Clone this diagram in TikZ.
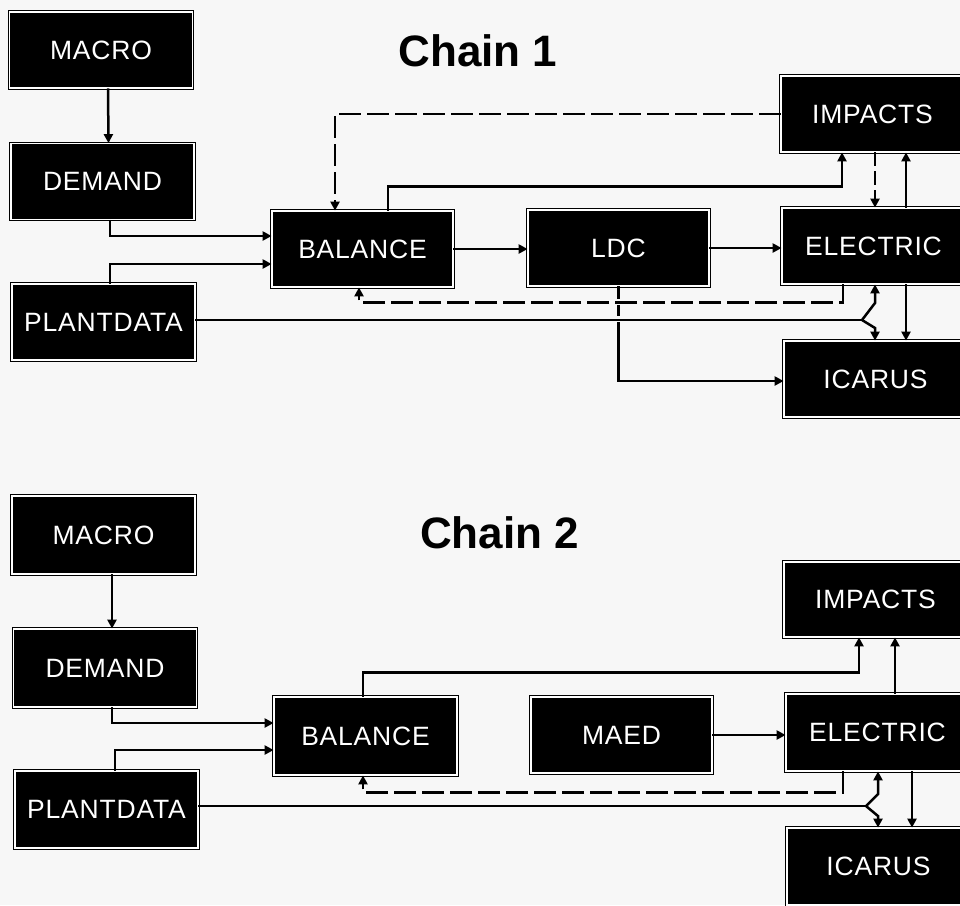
\documentclass[tikz,border=0pt]{standalone}
\usepackage{fontspec}
\setmainfont{Liberation Sans}
\newfontfamily\boxfont[LetterSpace=3]{Liberation Sans}
\usetikzlibrary{arrows.meta}
\definecolor{bgcol}{RGB}{247,247,247}
\tikzset{
  box/.style={draw=black, line width=0.8pt, double=white, double distance=1.6pt,
    fill=black, text=white, font=\boxfont\fontsize{26.5}{30}\selectfont,
    minimum width=183pt, minimum height=76pt, inner sep=0pt},
  title/.style={font=\fontsize{44}{50}\selectfont\bfseries, text=black, inner sep=0pt},
  arr/.style={line width=2.5pt, -{Triangle[length=9pt,width=9pt]}},
  ln/.style={line width=2.5pt},
  dasharr/.style={line width=2.5pt, dash pattern=on 22pt off 6pt, -{Triangle[length=9pt,width=9pt]}},
  vdasharr/.style={line width=2.5pt, dash pattern=on 14pt off 5pt, -{Triangle[length=9pt,width=9pt]}},
}
\begin{document}
\begin{tikzpicture}[x=1pt,y=-1pt]
\fill[bgcol] (0,0) rectangle (960,905);
\useasboundingbox (0,0) rectangle (960,905);
\clip (0,0) rectangle (960,905);

% ---------------- Chain 1 ----------------
\node[title] (T1) at (478,51) {Chain 1};
\node[box] (MACRO1) at (101,50) {MACRO};
\node[box] (DEMAND1) at (102.5,181.5) {DEMAND};
\node[box] (PLANT1) at (103.5,322) {PLANTDATA};
\node[box, minimum width=181pt] (BAL1) at (362.5,249) {BALANCE};
\node[box, minimum width=181pt] (LDC1) at (618.5,248) {LDC};
\node[box] (IMP1) at (872.5,114) {IMPACTS};
\node[box] (ELEC1) at (873.5,246) {ELECTRIC};
\node[box] (ICAR1) at (875.5,379) {ICARUS};

\draw[arr] ([xshift=7pt]MACRO1.south) -- ([xshift=6pt]DEMAND1.north);
\draw[arr] ([xshift=7.5pt]DEMAND1.south) |- ([yshift=13pt]BAL1.west);
\draw[arr] ([xshift=6.5pt]PLANT1.north) |- ([yshift=-15pt]BAL1.west);
\draw[arr] (BAL1.east) -- (BAL1.east -| LDC1.west);
\draw[arr] (LDC1.east) -- (LDC1.east -| ELEC1.west);
\draw[dasharr] (IMP1.west) -| ([xshift=-27.5pt]BAL1.north);
\draw[arr] ([xshift=25.5pt]BAL1.north) -- ++(0,-24) -| ([xshift=-30.5pt]IMP1.south);
\draw[vdasharr] ([xshift=2.5pt]IMP1.south) -- ([xshift=1.5pt]ELEC1.north);
\draw[arr] ([xshift=32.5pt]ELEC1.north) -- ([xshift=33.5pt]IMP1.south);
\draw[arr] ([xshift=32.5pt]ELEC1.south) -- ([xshift=30.5pt]ICAR1.north);
\draw[dasharr] ([xshift=-30.5pt]ELEC1.south) -- ++(0,18) -| ([xshift=-3.5pt]BAL1.south);
% LDC -> ICARUS
\draw[ln, dash pattern=on 13pt off 6pt] (LDC1.south) -- ([yshift=-30pt]LDC1.south);
\draw[arr] ([yshift=-36pt]LDC1.south) |- ([yshift=-2pt]ICAR1.west);
% PLANTDATA fork
\coordinate (F1) at (862,320);
\draw[ln] (PLANT1.east |- F1) -- (F1);
\draw[arr] (F1) -- (875,303) -- ([xshift=1.5pt]ELEC1.south);
\draw[arr] (F1) -- (875,328) -- ([xshift=-0.5pt]ICAR1.north);

% ---------------- Chain 2 ----------------
\node[title] (T2) at (499.5,532.5) {Chain 2};
\node[box, minimum height=78pt] (MACRO2) at (103.5,535) {MACRO};
\node[box, minimum height=78pt] (DEMAND2) at (105,668) {DEMAND};
\node[box, minimum height=77pt] (PLANT2) at (106.5,809.5) {PLANTDATA};
\node[box, minimum height=78pt] (BAL2) at (365.5,736) {BALANCE};
\node[box, minimum width=181pt] (MAED2) at (621.5,735) {MAED};
\node[box, minimum height=75pt] (IMP2) at (875.5,599.5) {IMPACTS};
\node[box, minimum height=77pt] (ELEC2) at (877.5,732.5) {ELECTRIC};
\node[box, minimum height=77pt] (ICAR2) at (878.5,866.5) {ICARUS};

\draw[arr] ([xshift=8.5pt]MACRO2.south) -- ([xshift=7pt]DEMAND2.north);
\draw[arr] ([xshift=7pt]DEMAND2.south) |- ([yshift=13pt]BAL2.west);
\draw[arr] ([xshift=8.5pt]PLANT2.north) |- ([yshift=-14pt]BAL2.west);
\draw[arr] (MAED2.east) -- (MAED2.east -| ELEC2.west);
\draw[arr] ([xshift=-2.5pt]BAL2.north) -- ++(0,-24) -| ([xshift=-16.5pt]IMP2.south);
\draw[arr] ([xshift=17.5pt]ELEC2.north) -- ([xshift=19.5pt]IMP2.south);
\draw[arr] ([xshift=34.5pt]ELEC2.south) -- ([xshift=33.5pt]ICAR2.north);
\draw[dasharr] ([xshift=-34.5pt]ELEC2.south) -- ++(0,21) -| ([xshift=-2.5pt]BAL2.south);
% PLANTDATA fork
\coordinate (F2) at (866,806);
\draw[ln] (PLANT2.east |- F2) -- (F2);
\draw[arr] (F2) -- (878,794) -- ([xshift=0.5pt]ELEC2.south);
\draw[arr] (F2) -- (878,816) -- ([xshift=-0.5pt]ICAR2.north);
\end{tikzpicture}
\end{document}
